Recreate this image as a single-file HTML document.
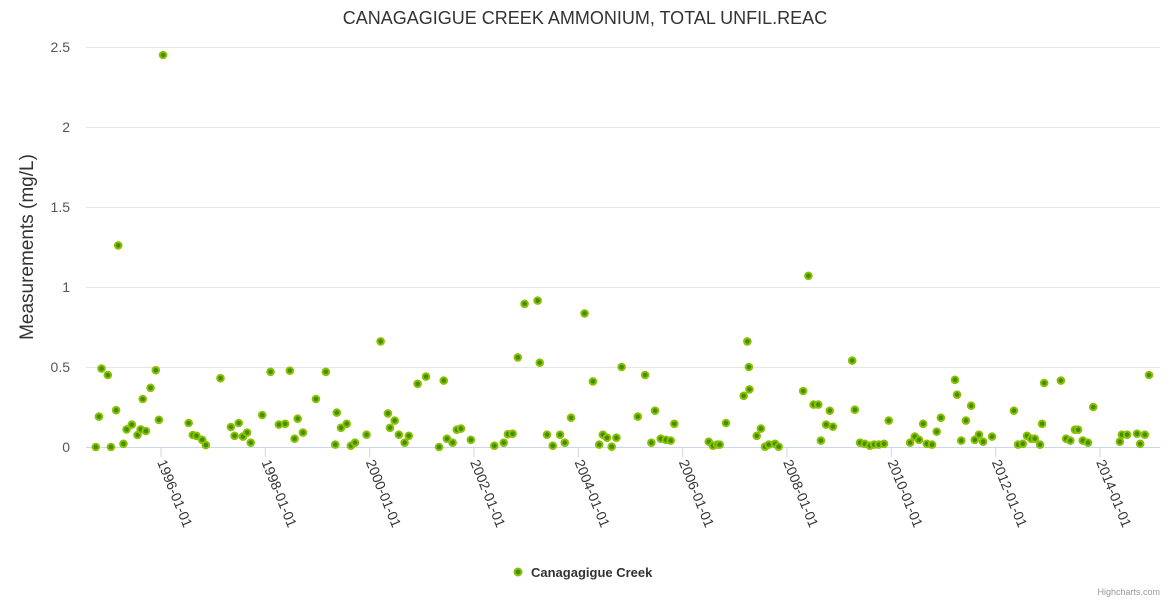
<!DOCTYPE html>
<html><head><meta charset="utf-8">
<style>
html,body{margin:0;padding:0;background:#fff;}
svg{display:block;font-family:"Liberation Sans","DejaVu Sans",sans-serif;}
</style></head>
<body>
<svg id="chart" width="1170" height="600" viewBox="0 0 1170 600">
  <rect width="1170" height="600" fill="#fff"/>
  <text x="585" y="24" text-anchor="middle" font-size="18" fill="#333">CANAGAGIGUE CREEK AMMONIUM, TOTAL UNFIL.REAC</text>
  <g id="grid"></g>
  <g id="yticks"></g>
  <text transform="translate(33,247) rotate(-90)" text-anchor="middle" font-size="19" fill="#333">Measurements (mg/L)</text>
  <line x1="86" y1="447.5" x2="1160" y2="447.5" stroke="#ccd6eb" stroke-width="1"/>
  <g id="xticks"></g>
  <g id="points"></g>
  <g>
    <circle cx="518" cy="572" r="3.5" fill="#3f8f00" stroke="#8cc000" stroke-width="2"/>
    <text x="531" y="577" font-size="13" font-weight="bold" fill="#333">Canagagigue Creek</text>
  </g>
  <text x="1160" y="595" text-anchor="end" font-size="9" fill="#999">Highcharts.com</text>
</svg>
<script>
const yTicks = [0, 0.5, 1, 1.5, 2, 2.5];
const yTickLabels = ["0", "0.5", "1", "1.5", "2", "2.5"];
const xTickYears = [1996, 1998, 2000, 2002, 2004, 2006, 2008, 2010, 2012, 2014];
const xTickLabels = ["1996-01-01","1998-01-01","2000-01-01","2002-01-01","2004-01-01","2006-01-01","2008-01-01","2010-01-01","2012-01-01","2014-01-01"];
const dates = [1994.75,1994.81,1994.86,1994.98,1995.04,1995.14,1995.18,1995.28,1995.34,1995.44,1995.55,1995.61,1995.65,1995.71,1995.80,1995.90,1995.96,1996.04,
1996.53,1996.61,1996.68,1996.79,1996.86,1997.14,1997.34,1997.41,1997.49,1997.57,1997.65,1997.72,1997.94,
1998.10,1998.26,1998.38,1998.47,1998.56,1998.62,1998.72,1998.97,1999.16,1999.34,1999.37,1999.45,1999.56,1999.64,1999.72,1999.94,
2000.21,2000.35,2000.39,2000.48,2000.56,2000.67,2000.75,2000.92,2001.08,2001.33,2001.42,2001.48,2001.59,2001.67,2001.75,2001.94,
2002.39,2002.57,2002.65,2002.74,2002.84,2002.97,2003.22,2003.26,2003.40,2003.51,2003.65,2003.74,2003.86,
2004.12,2004.28,2004.40,2004.47,2004.55,2004.64,2004.73,2004.83,2005.14,2005.28,2005.40,2005.47,2005.58,2005.68,2005.77,2005.84,
2006.50,2006.58,2006.66,2006.71,2006.83,2007.17,2007.24,2007.27,2007.28,2007.42,2007.50,2007.58,2007.65,2007.77,2007.84,
2008.31,2008.41,2008.51,2008.60,2008.65,2008.75,2008.82,2008.88,2009.25,2009.30,2009.40,2009.49,2009.59,2009.67,2009.76,2009.86,2009.95,
2010.36,2010.45,2010.53,2010.61,2010.68,2010.78,2010.87,2010.95,2011.22,2011.26,2011.34,2011.43,2011.53,2011.60,2011.68,2011.76,2011.93,
2012.35,2012.43,2012.52,2012.60,2012.68,2012.75,2012.85,2012.89,2012.93,2013.25,2013.35,2013.43,2013.52,2013.58,2013.67,2013.77,2013.87,
2014.38,2014.42,2014.52,2014.71,2014.77,2014.86,2014.94];
const values = [0,0.19,0.49,0.45,0,0.23,1.26,0.02,0.11,0.14,0.075,0.11,0.30,0.10,0.37,0.48,0.17,2.45,
0.15,0.075,0.07,0.045,0.012,0.43,0.125,0.07,0.15,0.065,0.09,0.027,0.2,
0.47,0.14,0.145,0.477,0.052,0.177,0.09,0.30,0.47,0.015,0.215,0.12,0.145,0.008,0.027,0.077,
0.66,0.21,0.12,0.165,0.077,0.027,0.07,0.395,0.44,0,0.415,0.052,0.027,0.108,0.115,0.045,
0.008,0.027,0.08,0.083,0.56,0.895,0.915,0.527,0.077,0.008,0.077,0.027,0.183,
0.835,0.41,0.015,0.077,0.058,0.002,0.058,0.50,0.19,0.45,0.027,0.227,0.052,0.045,0.04,0.145,
0.033,0.008,0.015,0.015,0.15,0.32,0.66,0.50,0.36,0.07,0.115,0.002,0.015,0.02,0.002,
0.35,1.07,0.265,0.265,0.04,0.14,0.227,0.127,0.54,0.233,0.027,0.02,0.008,0.015,0.015,0.02,0.165,
0.027,0.065,0.045,0.145,0.02,0.015,0.096,0.183,0.42,0.327,0.04,0.165,0.258,0.045,0.077,0.033,0.065,
0.227,0.015,0.02,0.07,0.052,0.052,0.015,0.145,0.40,0.415,0.052,0.04,0.108,0.108,0.04,0.027,0.25,
0.033,0.077,0.077,0.083,0.02,0.077,0.45];

const NS = "http://www.w3.org/2000/svg";
function yScale(v){ return 447 - v * 160; }
function xScale(t){ return 161 + (t - 1996) * (939 / 18); }

const grid = document.getElementById('grid');
const yt = document.getElementById('yticks');
yTicks.forEach((v, i) => {
  if (v !== 0) {
    const l = document.createElementNS(NS, 'line');
    l.setAttribute('x1', 86); l.setAttribute('x2', 1160);
    l.setAttribute('y1', yScale(v) + 0.5); l.setAttribute('y2', yScale(v) + 0.5);
    l.setAttribute('stroke', '#e6e6e6');
    
    
    grid.appendChild(l);
  }
  const t = document.createElementNS(NS, 'text');
  t.setAttribute('x', 70); t.setAttribute('y', yScale(v) + 5);
  t.setAttribute('text-anchor', 'end'); t.setAttribute('font-size', '14'); t.setAttribute('fill', '#555');
  t.textContent = yTickLabels[i];
  
  
  yt.appendChild(t);
});

const xt = document.getElementById('xticks');
xTickYears.forEach((yr, i) => {
  const x = xScale(yr);
  const l = document.createElementNS(NS, 'line');
  l.setAttribute('x1', x); l.setAttribute('x2', x);
  l.setAttribute('y1', 447); l.setAttribute('y2', 457);
  l.setAttribute('stroke', '#ccd6eb');
  
  
  xt.appendChild(l);
  const t = document.createElementNS(NS, 'text');
  t.setAttribute('transform', 'translate(' + (x - 4) + ',462) rotate(68)');
  t.setAttribute('font-size', '14'); t.setAttribute('fill', '#333');
  t.textContent = xTickLabels[i];
  
  
  xt.appendChild(t);
});

const pts = document.getElementById('points');
dates.forEach((d, i) => {
  const c = document.createElementNS(NS, 'circle');
  c.setAttribute('cx', xScale(d)); c.setAttribute('cy', yScale(values[i]));
  c.setAttribute('r', 3.3);
  c.setAttribute('fill', '#3f8f00'); c.setAttribute('stroke', '#8cc000'); c.setAttribute('stroke-width', '2');
  
  
  pts.appendChild(c);
});
</script>
</body></html>
